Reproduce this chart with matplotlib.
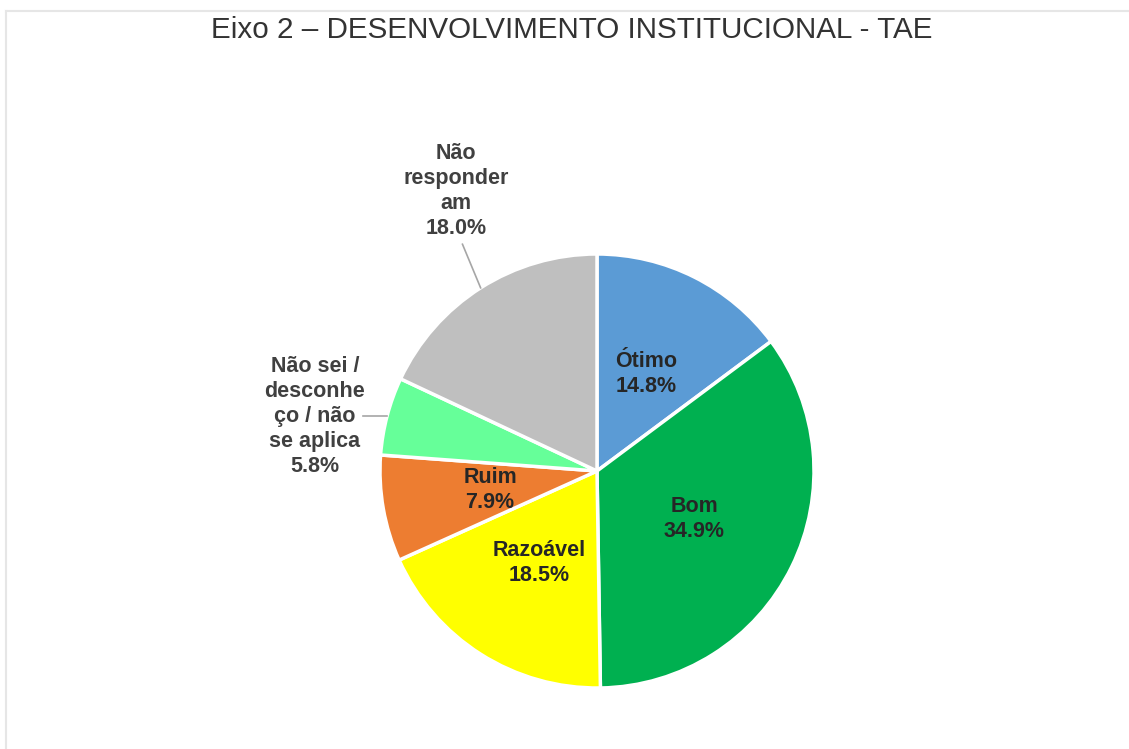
import numpy as np
import matplotlib
matplotlib.use("Agg")
import matplotlib.pyplot as plt
from matplotlib.lines import Line2D

plt.rcParams["font.family"] = ["Liberation Sans", "DejaVu Sans"]

# -------------------------------------------------
# DATA
# -------------------------------------------------
labels = ["Ótimo", "Bom", "Razoável", "Ruim",
          "Não sei /\ndesconhe\nço / não\nse aplica", "Não\nresponder\nam"]
values = [14.8, 34.9, 18.5, 7.9, 5.8, 18.0]
colors = ["#5B9BD5", "#00B050", "#FFFF00", "#ED7D31", "#66FF99", "#BFBFBF"]
title = "Eixo 2 – DESENVOLVIMENTO INSTITUCIONAL - TAE"

W, H = 1129, 749
fig = plt.figure(figsize=(W / 100, H / 100), dpi=100)

# pie centre / radius in pixels
cx, cy, r = 597, 471, 217
ax = fig.add_axes([(cx - r) / W, (H - cy - r) / H, 2 * r / W, 2 * r / H])

wedges, _ = ax.pie(values, colors=colors, startangle=90, counterclock=False,
                   radius=1.0, wedgeprops=dict(edgecolor="white", linewidth=2.5))
ax.set_xlim(-1, 1)
ax.set_ylim(-1, 1)
ax.set_aspect("equal")
ax.axis("off")

txt_kw = dict(fontsize=15.5, fontweight="bold", color="#262626",
              ha="center", va="center", linespacing=1.25)

# inside labels
for w, lab, v in zip(wedges[:4], labels[:4], values[:4]):
    ang = np.deg2rad((w.theta1 + w.theta2) / 2)
    ax.text(0.5 * np.cos(ang), 0.5 * np.sin(ang), f"{lab}\n{v:.1f}%", **txt_kw)

# outside labels with leader lines
out_pos = {4: (-1.30, 0.253), 5: (-0.65, 1.29)}
for i, (tx, ty) in out_pos.items():
    w = wedges[i]
    ang = np.deg2rad((w.theta1 + w.theta2) / 2)
    ex, ey = np.cos(ang), np.sin(ang)
    ax.text(tx, ty, f"{labels[i]}\n{values[i]:.1f}%", clip_on=False,
            **{**txt_kw, "color": "#404040"})
    if i == 4:
        ax.add_line(Line2D([ex, -1.08], [ey, ey], color="#A6A6A6",
                           lw=1.2, clip_on=False))
    else:
        ax.add_line(Line2D([ex, -0.62], [ey, 1.045], color="#A6A6A6",
                           lw=1.2, clip_on=False))

fig.text(572 / W, 1 - 30 / H, title, ha="center", va="center",
         fontsize=21.3, color="#333333")

# light frame lines (top and left)
fig.add_artist(Line2D([6 / W, 1], [1 - 11 / H, 1 - 11 / H], color="#E6E6E6",
                      lw=1.5, transform=fig.transFigure))
fig.add_artist(Line2D([6 / W, 6 / W], [0, 1 - 11 / H], color="#E6E6E6",
                      lw=1.5, transform=fig.transFigure))

fig.savefig("out.png", dpi=100)
